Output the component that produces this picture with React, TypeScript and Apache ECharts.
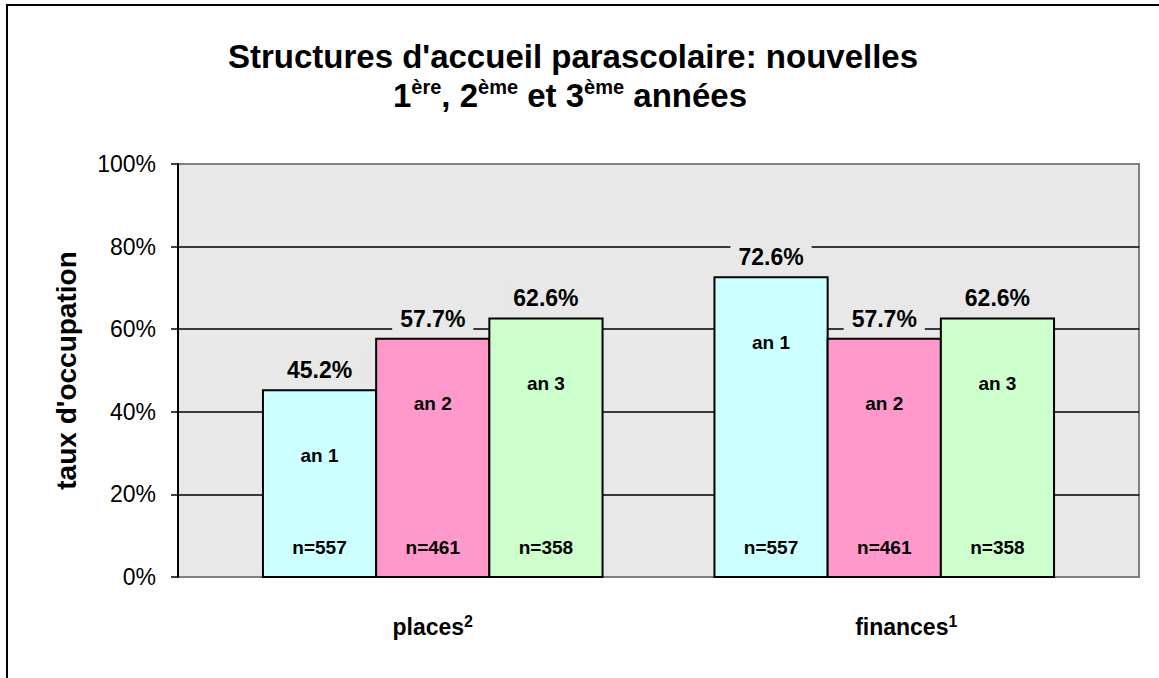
import React, { useEffect, useRef } from "react";
import * as echarts from "echarts";

const categories = ["places", "finances"];
const categorySup = ["2", "1"];
const years = ["an 1", "an 2", "an 3"];
const yearColors = ["#CCFFFF", "#FF99CC", "#CCFFCC"];
const placesValues = [45.2, 57.7, 62.6];
const financesValues = [72.6, 57.7, 62.6];
const sampleSizes = [557, 461, 358];
const yTicks = [0, 20, 40, 60, 80, 100];

const FONT = '"Liberation Sans", Arial, Helvetica, sans-serif';

export default function App() {
  const ref = useRef<HTMLDivElement>(null);

  useEffect(() => {
    if (!ref.current) return;
    const chart = echarts.init(ref.current, undefined, { renderer: "svg" });

    const seriesValues = [placesValues, financesValues];
    const data: any[] = [];
    seriesValues.forEach((vals, ci) => {
      vals.forEach((v, yi) => {
        data.push([ci, v, yi, sampleSizes[yi]]);
      });
    });

    const renderItem = (params: any, api: any) => {
      const ci = api.value(0);
      const v = api.value(1);
      const yi = api.value(2);
      const n = api.value(3);
      const top = api.coord([ci, v]);
      const base = api.coord([ci, 0]);
      const band = api.size([1, 0])[0];
      const barW = band * 0.2507;
      const cx = top[0] + (yi - 1) * barW;
      const fontVal = `bold 23px ${FONT}`;
      const fontIn = `bold 19px ${FONT}`;
      return {
        type: "group",
        children: [
          {
            type: "rect",
            shape: { x: cx - barW / 2, y: top[1], width: barW, height: base[1] - top[1] },
            style: { fill: yearColors[yi], stroke: "#000", lineWidth: 2 },
          },
          {
            type: "text",
            style: {
              text: v.toFixed(1) + "%",
              x: cx,
              y: top[1] - 20,
              align: "center",
              verticalAlign: "middle",
              font: fontVal,
              fill: "#000",
              backgroundColor: "#E8E8E8",
              padding: [2, 8],
            },
          },
          {
            type: "text",
            style: {
              text: years[yi],
              x: cx,
              y: top[1] + 65,
              align: "center",
              verticalAlign: "middle",
              font: fontIn,
              fill: "#000",
            },
          },
          {
            type: "text",
            style: {
              text: "n=" + n,
              x: cx,
              y: base[1] - 30,
              align: "center",
              verticalAlign: "middle",
              font: fontIn,
              fill: "#000",
            },
          },
        ],
      };
    };

    const option: any = {
      animation: false,
      textStyle: { fontFamily: FONT },
      grid: [
        {
          left: 178, right: 20, top: 164, bottom: 101,
          show: true, backgroundColor: "#E8E8E8", borderColor: "#808080", borderWidth: 2,
        },
        { left: 207, right: 49, top: 164, bottom: 101 },
      ],
      xAxis: [
        { gridIndex: 0, type: "category", data: [""], show: false },
        {
          gridIndex: 1,
          type: "category",
          data: categories,
          axisLine: { show: false },
          axisTick: { show: false },
          axisLabel: {
            margin: 36,
            formatter: (val: string, idx: number) =>
              (idx === 1 ? "{p|}" : "") + `{b|${val}}{s|${categorySup[idx]}}`,
            rich: {
              p: { width: 44, lineHeight: 28 },
              b: { fontFamily: FONT, fontWeight: "bold", fontSize: 23, color: "#000", lineHeight: 28 },
              s: { fontFamily: FONT, fontWeight: "bold", fontSize: 16, color: "#000", verticalAlign: "top", lineHeight: 28 },
            },
          },
        },
      ],
      yAxis: [
        {
          gridIndex: 0,
          type: "value",
          min: yTicks[0],
          max: yTicks[yTicks.length - 1],
          interval: 20,
          name: "taux d'occupation",
          nameLocation: "middle",
          nameGap: 98,
          nameTextStyle: { fontFamily: FONT, fontWeight: "bold", fontSize: 28, color: "#000" },
          axisLine: { show: true, lineStyle: { color: "#000", width: 2 } },
          axisTick: { show: true, length: 7, lineStyle: { color: "#000", width: 1.5 } },
          axisLabel: {
            margin: 22,
            formatter: "{value}%",
            fontFamily: FONT,
            fontSize: 23,
            color: "#000",
          },
          splitLine: {
            show: true,
            showMinLine: false,
            showMaxLine: false,
            lineStyle: { color: "#000", width: 1.5 },
          },
        },
        { gridIndex: 1, type: "value", min: 0, max: 100, show: false },
      ],
      series: [
        {
          type: "custom",
          xAxisIndex: 1,
          yAxisIndex: 1,
          renderItem,
          encode: { x: 0, y: 1 },
          data,
          z: 5,
        },
      ],
      graphic: [
        {
          type: "rect",
          shape: { x: 7, y: 5, width: 1200, height: 720 },
          style: { fill: "none", stroke: "#000", lineWidth: 2 },
          z: 100,
        },
        {
          type: "text",
          x: 573,
          y: 56,
          style: {
            text: "Structures d'accueil parascolaire: nouvelles",
            font: `bold 33px ${FONT}`,
            fill: "#000",
            align: "center",
            verticalAlign: "middle",
          },
        },
        {
          type: "text",
          x: 570,
          y: 95,
          style: {
            text: "{n|1}{s|ère}{n|, 2}{s|ème}{n| et 3}{s|ème}{n| années}",
            align: "center",
            verticalAlign: "middle",
            rich: {
              n: { fontFamily: FONT, fontWeight: "bold", fontSize: 33, fill: "#000", lineHeight: 36 },
              s: { fontFamily: FONT, fontWeight: "bold", fontSize: 20, fill: "#000", verticalAlign: "top", lineHeight: 36 },
            },
          },
        },
      ],
    };

    chart.setOption(option);
    return () => chart.dispose();
  }, []);

  return (
    <div
      ref={ref}
      style={{ position: "fixed", left: 0, top: 0, width: 1159, height: 678, background: "#fff" }}
    />
  );
}
